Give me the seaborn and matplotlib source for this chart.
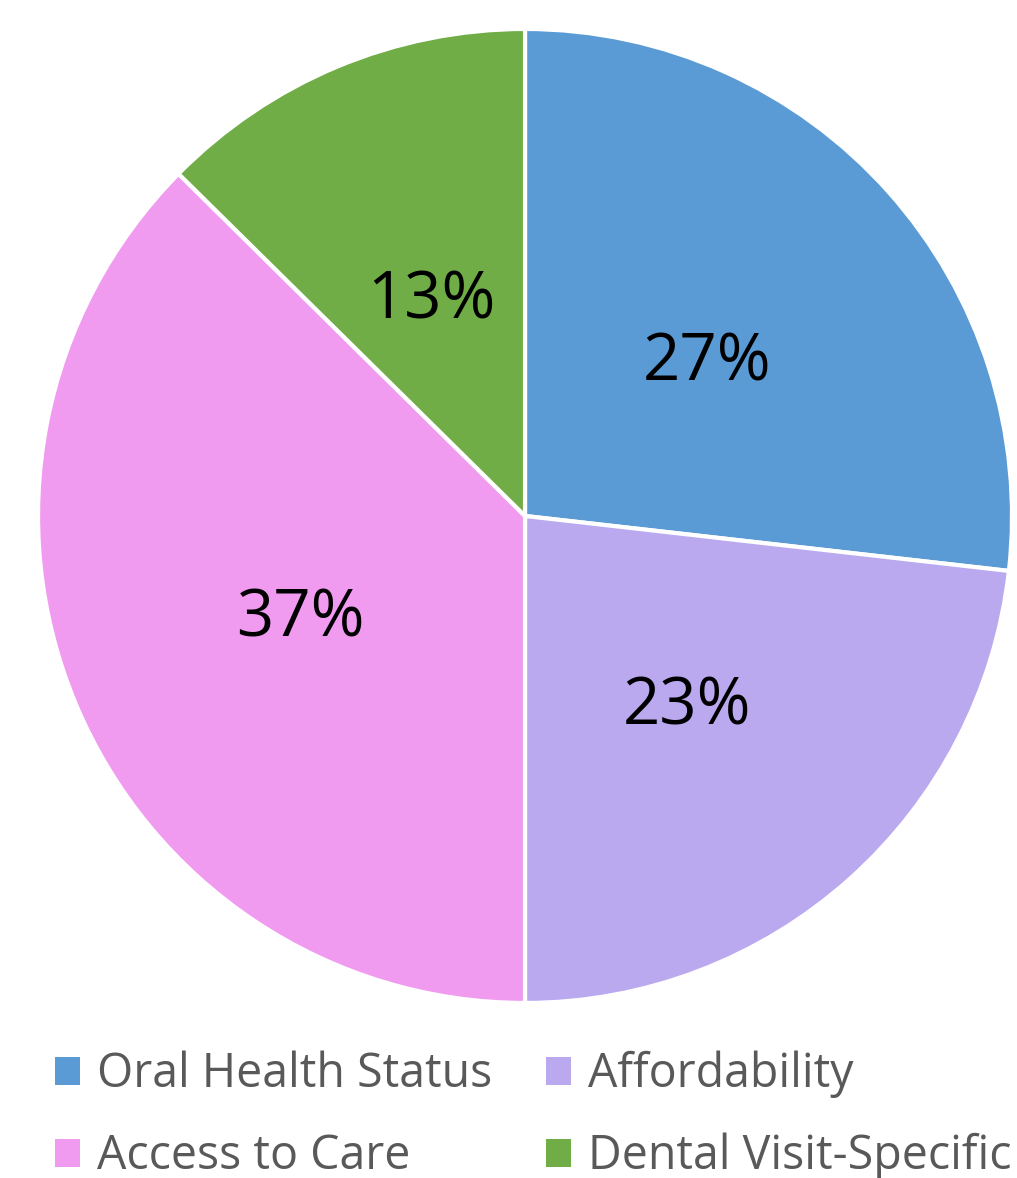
import matplotlib; matplotlib.use("Agg")
import matplotlib.pyplot as plt
from matplotlib.patches import Patch
import seaborn as sns

categories = ["Oral Health Status", "Affordability", "Access to Care", "Dental Visit-Specific"]
shares = [26.8, 23.2, 37.4, 12.6]
colors = ["#5B9BD5", "#BBA9F0", "#F09BF0", "#70AD47"]

sns.set_style("white")
plt.rcParams["font.family"] = ["Open Sans", "DejaVu Sans"]

fig = plt.figure(figsize=(10.17, 11.78), dpi=100)
ax = fig.add_axes([0.0374, 0.1486, 0.9577, 0.8268])
wedges, _, autotexts = ax.pie(
    shares, colors=colors, startangle=90, counterclock=False,
    autopct=lambda p: f"{p:.0f}%", pctdistance=0.5,
    wedgeprops=dict(edgecolor="white", linewidth=3),
    textprops=dict(fontsize=47, color="black"))
# Open Sans sits a bit high compared with the original; nudge labels down
for t in autotexts:
    x, y = t.get_position()
    t.set_position((x, y - 0.02))
ax.set_xlim(-1, 1); ax.set_ylim(-1, 1); ax.set_aspect("equal")
ax.axis("off")

# legend fills column-wise, so reorder to get two rows of two
order = [0, 2, 1, 3]
handles = [Patch(facecolor=colors[i], edgecolor="none") for i in order]
fig.legend(handles, [categories[i] for i in order], ncol=2, frameon=False,
           loc="upper left", bbox_to_anchor=(0.054, 0.108),
           fontsize=33.5, labelcolor="#595959",
           handlelength=0.54, handleheight=0.54, handletextpad=0.37,
           columnspacing=1.14, labelspacing=0.74, borderpad=0, borderaxespad=0)

fig.savefig("out.png", dpi=100, facecolor="white")
